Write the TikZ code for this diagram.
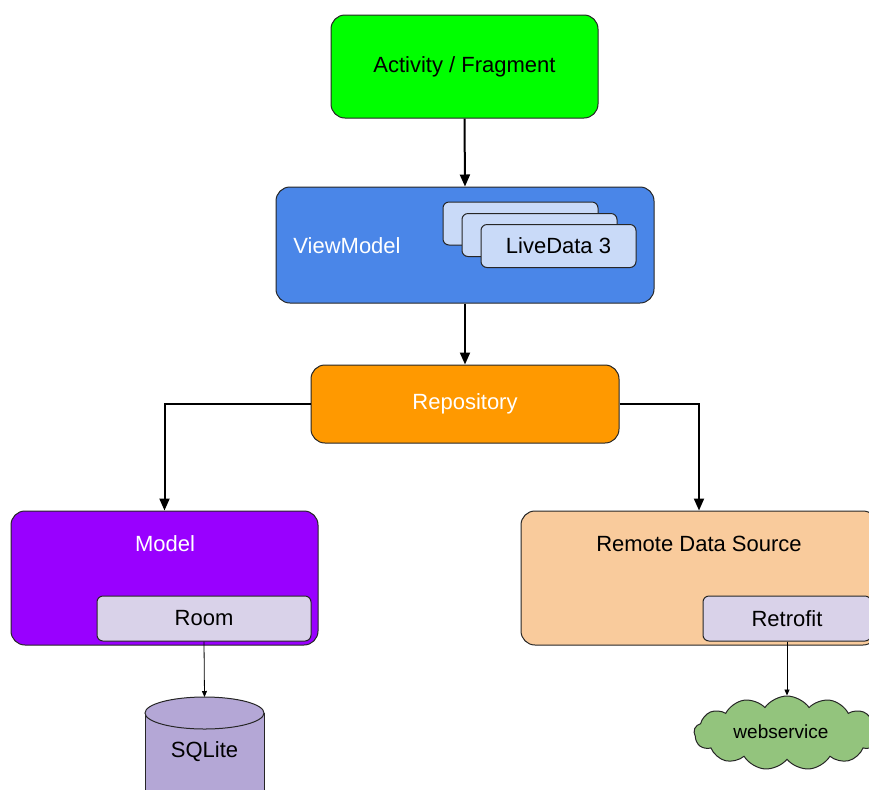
\documentclass[tikz,border=0pt]{standalone}
\usepackage{fontspec}
\setmainfont{Liberation Sans}
\usetikzlibrary{shapes.symbols,arrows.meta}
\definecolor{actgreen}{HTML}{00FF00}
\definecolor{vmblue}{HTML}{4A86E8}
\definecolor{ldblue}{HTML}{C9DAF8}
\definecolor{repoorange}{HTML}{FF9900}
\definecolor{modelpurple}{HTML}{9900FF}
\definecolor{libgray}{HTML}{D9D2E9}
\definecolor{sqlpurple}{HTML}{B4A7D6}
\definecolor{remotepeach}{HTML}{F9CB9C}
\definecolor{webgreen}{HTML}{93C47D}
\begin{document}
\begin{tikzpicture}[x=0.5pt,y=-0.5pt,
    box/.style={draw=black!85,line width=0.5pt,rounded corners=7pt,inner sep=0pt,font=\fontsize{11}{13}\selectfont},
    smallbox/.style={draw=black!85,line width=0.5pt,rounded corners=3pt,inner sep=0pt,font=\fontsize{11}{13}\selectfont},
    boxtext/.style={font=\fontsize{11}{13}\selectfont,inner sep=0pt},
    flow/.style={-{Triangle[length=6pt,width=5pt]},line width=1pt},
    link/.style={-{Triangle[length=3pt,width=2.5pt]},line width=0.4pt}]
  \clip (0,0) rectangle (869,789);
  \node[box,fill=actgreen,minimum width=133.5pt,minimum height=51.5pt] (act) at (464.5,66.5) {Activity / Fragment};
  \node[box,fill=vmblue,minimum width=189pt,minimum height=58pt] (vm) at (465,245) {};
  \node[boxtext,text=white] (vmtext) at (347,246) {ViewModel};
  \node[smallbox,fill=ldblue,minimum width=77.5pt,minimum height=21.5pt] (ld1) at (520.5,223.5) {};
  \node[smallbox,fill=ldblue,minimum width=77.5pt,minimum height=21.5pt] (ld2) at (539.5,235) {};
  \node[smallbox,fill=ldblue,minimum width=77.5pt,minimum height=21.5pt] (ld3) at (558.5,246) {LiveData 3};
  \node[box,fill=repoorange,text=white,minimum width=154pt,minimum height=39pt] (repo) at (465,404) {Repository};
  \node[box,fill=modelpurple,minimum width=153.5pt,minimum height=67pt] (model) at (164.5,578) {};
  \node[boxtext,text=white] (modeltext) at (165,544) {Model};
  \node[smallbox,fill=libgray,minimum width=107pt,minimum height=22.5pt] (room) at (204,618.5) {Room};
  \node[box,fill=remotepeach,minimum width=178pt,minimum height=67pt] (remote) at (699,578) {};
  \node[boxtext] (remotetext) at (699,544) {Remote Data Source};
  \node[smallbox,fill=libgray,minimum width=84pt,minimum height=22.5pt] (retro) at (787,618.5) {Retrofit};
  \filldraw[fill=sqlpurple,draw=black!85,line width=0.5pt] (145,713) -- (145,820) -- (264,820) -- (264,713);
  \filldraw[fill=sqlpurple,draw=black!85,line width=0.5pt] (204.5,713) ellipse[x radius=59.5,y radius=16];
  \coordinate (dbtop) at (204.5,697);
  \node[boxtext] (db) at (204.5,752) {SQLite};
  \node[cloud,cloud puffs=13,cloud puff arc=110,aspect=2.6,draw=black!85,line width=0.5pt,fill=webgreen,
    minimum width=93pt,minimum height=37pt,inner sep=0pt] (web) at (787,733) {};
  \node[inner sep=0pt,font=\fontsize{9.5}{11}\selectfont] (webtext) at (781,732) {webservice};
  \draw[flow] (act.south) -- (vm.north);
  \draw[flow] (vm.south) -- (repo.north);
  \draw[flow] (repo.west) -| (model.north);
  \draw[flow] (repo.east) -| (remote.north);
  \draw[link] (room.south) -- (dbtop);
  \draw[link] (retro.south) -- (web.north);
\end{tikzpicture}
\end{document}
